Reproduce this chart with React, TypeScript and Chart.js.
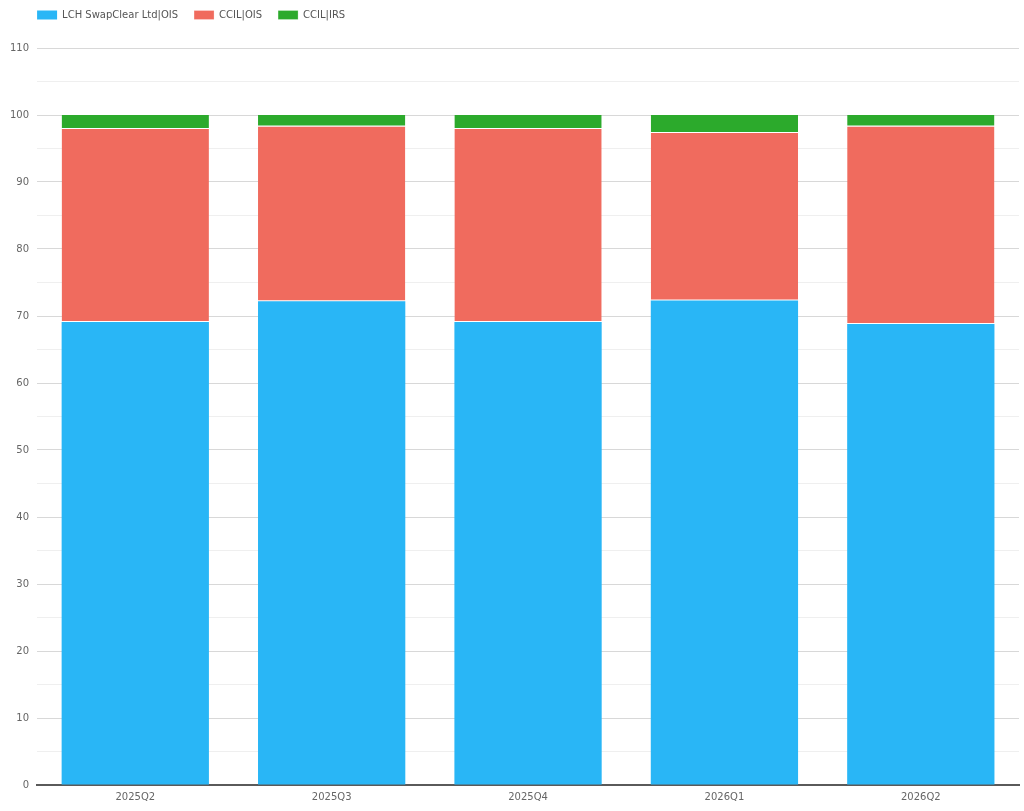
import { useEffect, useRef } from "react";
import { Chart, registerables } from "chart.js";

Chart.register(...registerables);

const quarters = ["2025Q2", "2025Q3", "2025Q4", "2026Q1", "2026Q2"];
const lchOis = [69.1, 72.2, 69.1, 72.3, 68.8];
const ccilOis = [28.8, 26.1, 28.8, 25.0, 29.5];
const ccilIrs = [2.1, 1.7, 2.1, 2.7, 1.7];
const seriesNames = ["LCH SwapClear Ltd|OIS", "CCIL|OIS", "CCIL|IRS"];
const seriesColors = ["#29b6f6", "#f06b5e", "#2caa2c"];

const FONT = "'DejaVu Sans', Verdana, sans-serif";

// legend sits over the plot's left edge, with some room below it
const legendPlacer = {
  id: "legendPlacer",
  beforeInit(chart: any) {
    const legend = chart.legend;
    if (!legend) return;
    const fit = legend.fit;
    legend.fit = function () {
      fit.call(this);
      this.height += 12;
    };
  },
  afterLayout(chart: any) {
    const legend = chart.legend;
    if (!legend) return;
    legend.left = chart.chartArea.left - 16;
    legend.top -= 6;
  },
};

export default function App() {
  const canvasRef = useRef<HTMLCanvasElement | null>(null);
  const chartRef = useRef<Chart | null>(null);

  useEffect(() => {
    document.body.style.margin = "0";
    const canvas = canvasRef.current;
    if (!canvas) return;
    chartRef.current?.destroy();

    chartRef.current = new Chart(canvas, {
      type: "bar",
      data: {
        labels: quarters,
        datasets: [
          {
            label: seriesNames[0],
            data: lchOis,
            backgroundColor: seriesColors[0],
            borderWidth: 0,
          },
          {
            label: seriesNames[1],
            data: ccilOis,
            backgroundColor: seriesColors[1],
            borderColor: "#ffffff",
            borderWidth: { top: 0, right: 0, bottom: 1, left: 0 },
            borderSkipped: false,
          },
          {
            label: seriesNames[2],
            data: ccilIrs,
            backgroundColor: seriesColors[2],
            borderColor: "#ffffff",
            borderWidth: { top: 0, right: 0, bottom: 1, left: 0 },
            borderSkipped: false,
          },
        ],
      },
      options: {
        animation: false,
        responsive: true,
        maintainAspectRatio: false,
        datasets: { bar: { categoryPercentage: 0.75, barPercentage: 1 } },
        layout: { padding: { left: 2, right: 5, top: 0, bottom: 2 } },
        plugins: {
          legend: {
            position: "top",
            align: "start",
            labels: {
              boxWidth: 20,
              boxHeight: 9,
              padding: 16,
              color: "#555",
              font: { family: FONT, size: 10 },
            },
          },
          tooltip: { enabled: false },
        },
        scales: {
          x: {
            stacked: true,
            grid: { display: false, drawTicks: false },
            border: { color: "#5a5a5a", width: 2 },
            ticks: { padding: 6, color: "#666", font: { family: FONT, size: 10 } },
          },
          y: {
            stacked: true,
            min: 0,
            max: 110,
            border: { display: false },
            grid: {
              drawTicks: false,
              color: (ctx: any) =>
                ctx.tick && ctx.tick.value % 10 === 0 ? "#d8d8d8" : "#efefef",
            },
            ticks: {
              stepSize: 5,
              padding: 8,
              autoSkip: false,
              color: "#666",
              font: { family: FONT, size: 10 },
              callback: (v: any) => (Number(v) % 10 === 0 ? v : ""),
            },
          },
        },
      },
      plugins: [legendPlacer],
    });

    return () => {
      chartRef.current?.destroy();
      chartRef.current = null;
    };
  }, []);

  return (
    <div style={{ width: 1024, height: 811, position: "relative" }}>
      <canvas ref={canvasRef}></canvas>
    </div>
  );
}
